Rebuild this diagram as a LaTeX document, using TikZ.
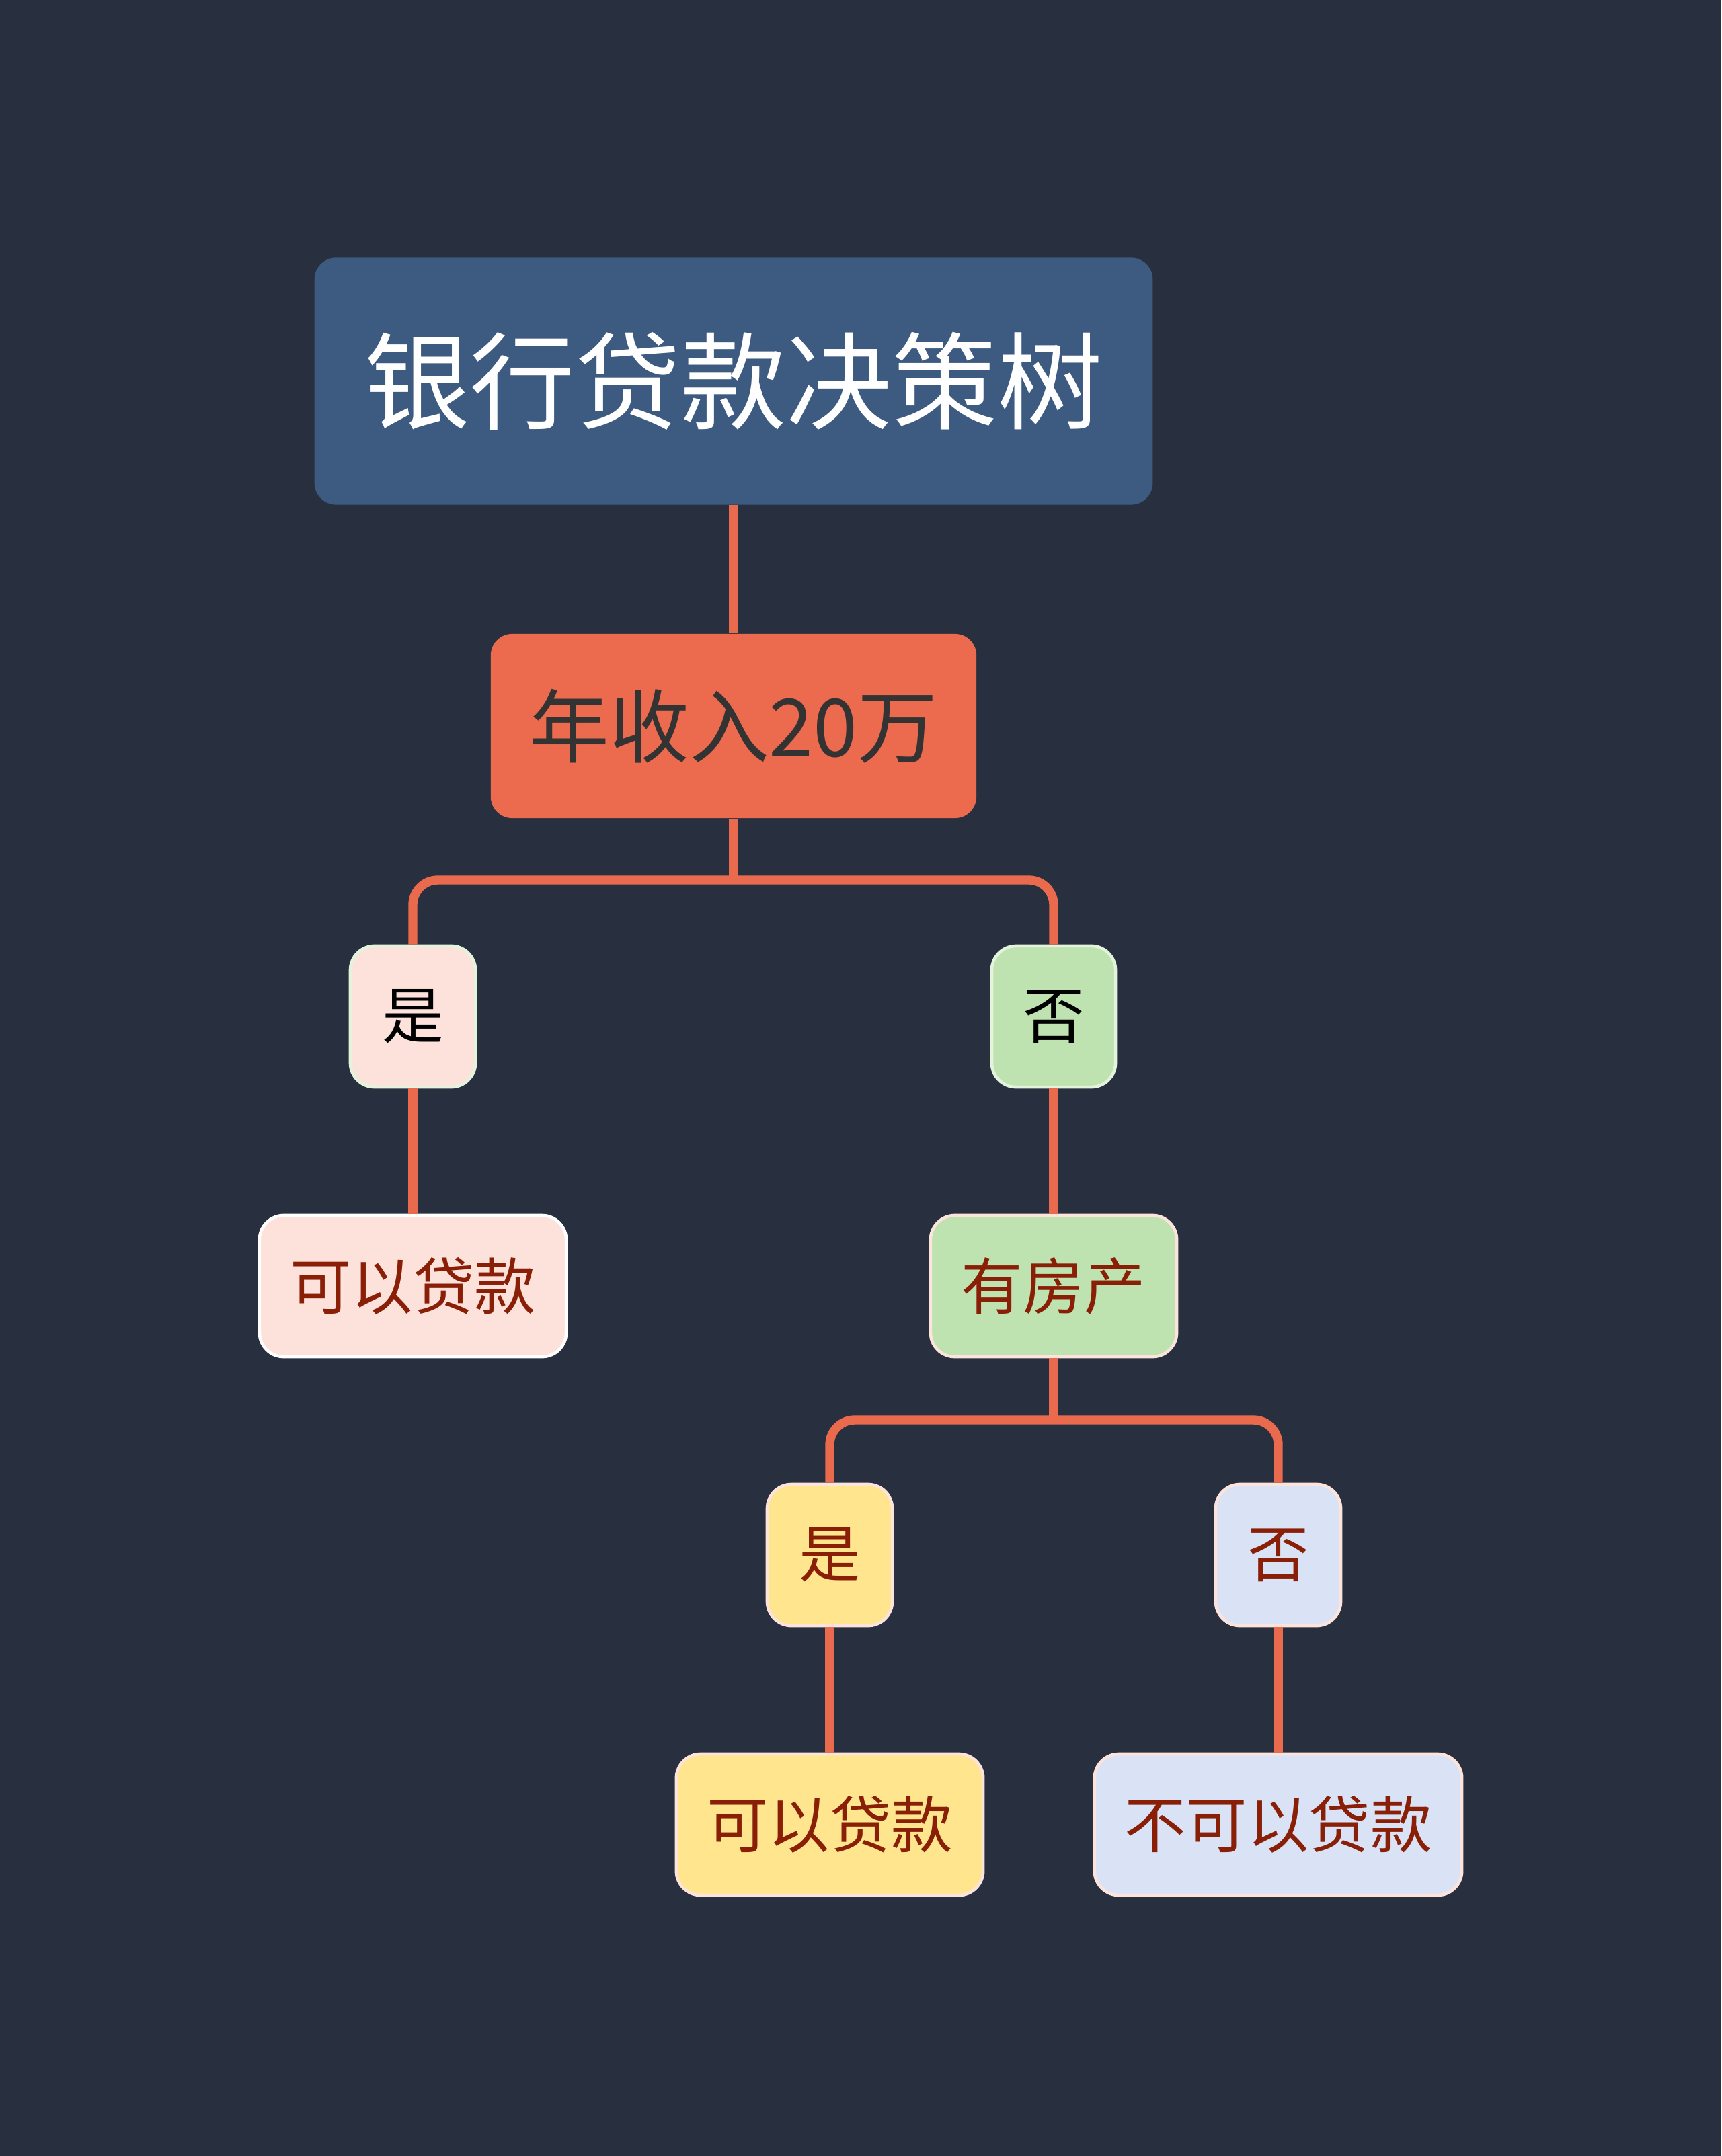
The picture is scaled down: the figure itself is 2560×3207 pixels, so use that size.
\documentclass[tikz,border=0pt]{standalone}
\usepackage{fontspec}
\setmainfont{Noto Sans CJK SC}
\definecolor{bgcol}{HTML}{28303F}
\definecolor{rootblue}{HTML}{3D5A80}
\definecolor{incomered}{HTML}{EC6B4F}
\definecolor{linkred}{HTML}{EA6A4E}
\definecolor{pinkfill}{HTML}{FDE2DC}
\definecolor{greenfill}{HTML}{BEE3B0}
\definecolor{yellowfill}{HTML}{FFE68E}
\definecolor{bluefill}{HTML}{DAE3F5}
\definecolor{edgepink}{HTML}{FCE3DB}
\definecolor{edgegreen}{HTML}{E4F3DC}
\definecolor{textred}{HTML}{8A1F08}

\begin{document}
\begin{tikzpicture}[x=0.01cm,y=-0.01cm,
    box/.style={rounded corners=0.36cm,inner sep=0pt,minimum height=2.1cm,
        font=\fontsize{26}{26}\selectfont,draw=edgepink,line width=1.3pt,text=textred},
    link/.style={draw=linkred,line width=3.8pt},
  ]
  \fill[bgcol] (0,0) rectangle (2560,3207);
  \useasboundingbox (0,0) rectangle (2560,3207);

  \node[fill=rootblue,rounded corners=0.32cm,inner sep=0pt,minimum width=12.46cm,minimum height=3.67cm,
        text=white,font=\fontsize{44.6}{44.6}\selectfont] (root) at (1091,567) {银行贷款决策树};
  \node[fill=incomered,rounded corners=0.32cm,inner sep=0pt,minimum width=7.22cm,minimum height=2.74cm,
        text=black!80,font=\fontsize{33.8}{33.8}\selectfont] (income) at (1091,1080) {年收入20万};

  \node[box,fill=pinkfill,draw=edgegreen,text=black,minimum width=1.86cm] (yes1) at (614,1512) {是};
  \node[box,fill=greenfill,draw=edgegreen,text=black,minimum width=1.84cm] (no1) at (1567,1512) {否};
  \node[box,fill=pinkfill,draw=white,minimum width=4.56cm] (loan1) at (614,1913) {可以贷款};
  \node[box,fill=greenfill,minimum width=3.66cm] (house) at (1567,1913) {有房产};

  \node[box,fill=yellowfill,minimum width=1.86cm] (yes2) at (1234,2313) {是};
  \node[box,fill=bluefill,minimum width=1.86cm] (no2) at (1901,2313) {否};
  \node[box,fill=yellowfill,minimum width=4.56cm] (loan2) at (1234,2714) {可以贷款};
  \node[box,fill=bluefill,minimum width=5.46cm] (noloan) at (1901,2714) {不可以贷款};

  \coordinate (split1) at (1091,1309);
  \coordinate (split2) at (1567,2112);

  \draw[link] (root.south) -- (income.north);
  \draw[link] (income.south) -- (split1);
  \draw[link,rounded corners=0.37cm] (yes1.north) |- (split1) -| (no1.north);
  \draw[link] (yes1.south) -- (loan1.north);
  \draw[link] (no1.south) -- (house.north);
  \draw[link] (house.south) -- (split2);
  \draw[link,rounded corners=0.37cm] (yes2.north) |- (split2) -| (no2.north);
  \draw[link] (yes2.south) -- (loan2.north);
  \draw[link] (no2.south) -- (noloan.north);
\end{tikzpicture}
\end{document}
